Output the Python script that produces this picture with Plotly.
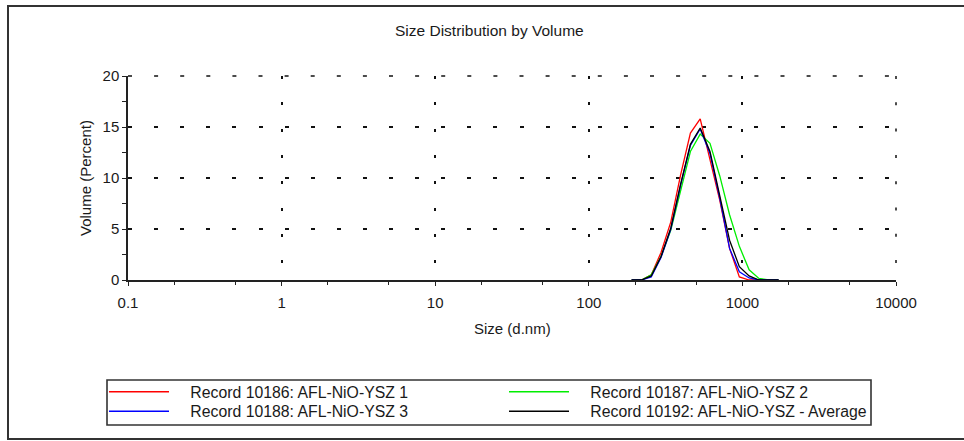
import plotly.graph_objects as go

# Particle size bins (d.nm) around the measured peak
sizes = [190.1, 220.2, 255.0, 295.3, 342.0, 396.1, 458.7, 531.2, 615.1,
         712.4, 825.0, 955.4, 1106, 1281, 1484, 1718]

# Volume distributions (%) per record
rec_10186 = [0, 0, 0.5, 2.7, 5.7, 10.3, 14.4, 15.8, 11.8, 7.8, 3.1, 0.3, 0, 0, 0, 0]
rec_10187 = [0, 0, 0.5, 2.3, 4.9, 8.8, 12.6, 14.3, 13.4, 10.2, 6.4, 3.3, 1.0, 0.15, 0, 0]
rec_10188 = [0, 0, 0.3, 2.2, 5.0, 9.3, 13.2, 14.8, 12.4, 8.0, 3.1, 0.8, 0.2, 0, 0, 0]
rec_10192 = [0, 0, 0.4, 2.3, 5.1, 9.4, 13.3, 14.9, 12.6, 8.3, 3.9, 1.3, 0.4, 0, 0, 0]

names = ["Record 10186: AFL-NiO-YSZ 1", "Record 10187: AFL-NiO-YSZ 2",
         "Record 10188: AFL-NiO-YSZ 3", "Record 10192: AFL-NiO-YSZ - Average"]
series = [rec_10186, rec_10187, rec_10188, rec_10192]
colors = ["#ff0000", "#00ee00", "#0000ff", "#000000"]
legend_rows = ["legend", "legend", "legend2", "legend2"]

x_ticks = [0.1, 1, 10, 100, 1000, 10000]
x_labels = ["0.1", "1", "10", "100", "1000", "10000"]
y_ticks = [0, 5, 10, 15, 20]

FONT = "Liberation Sans, Arial, sans-serif"
W, H = 964, 441
L, R, T, B = 128, 68, 76, 161
PW, PH = W - L - R, H - T - B
X_DASH = "3px,23.3px"
Y_DASH = "4px,22.1px"
GRID = dict(color="#111", width=1.5)
NAME_PAD = "\u00a0\u00a0\u00a0\u2009"  # gap between legend line sample and its text


def px(xp):
    return (xp - L) / PW


def py(yp):
    return (H - B - yp) / PH


fig = go.Figure()
for name, vals, col, lg in zip(names, series, colors, legend_rows):
    fig.add_trace(go.Scatter(x=sizes, y=vals, mode="lines", name=NAME_PAD + name,
                             legend=lg, line=dict(color=col, width=1.3)))

text_font = dict(family=FONT, size=15, color="#1a1a1a")
title_font = dict(family=FONT, size=15.5, color="#1a1a1a")
legend_font = dict(family=FONT, size=15.8, color="#1a1a1a")


def row_legend(yp):
    return dict(orientation="h", x=px(104), y=py(yp), xanchor="left", yanchor="middle",
                entrywidth=325, entrywidthmode="pixels", itemwidth=60,
                font=legend_font, bgcolor="rgba(0,0,0,0)", borderwidth=0)


fig.update_layout(
    width=W, height=H,
    margin=dict(l=L, r=R, t=T, b=B, autoexpand=False),
    paper_bgcolor="white", plot_bgcolor="white",
    showlegend=True,
    legend=row_legend(392),
    legend2=row_legend(411.5),
    xaxis=dict(type="log", range=[-1, 4], tickvals=x_ticks, ticktext=x_labels,
               showline=True, linecolor="#222", linewidth=1.5,
               ticks="outside", ticklen=4, tickwidth=1.3, tickcolor="#222",
               minor=dict(ticks="outside", ticklen=3, tickwidth=1, tickcolor="#222",
                          showgrid=False),
               showgrid=True, gridcolor=GRID["color"], gridwidth=GRID["width"], griddash=X_DASH,
               zeroline=False, tickfont=text_font, ticklabelstandoff=4),
    yaxis=dict(range=[0, 20], tickvals=y_ticks,
               showline=True, linecolor="#222", linewidth=1.5,
               ticks="outside", ticklen=4, tickwidth=1.3, tickcolor="#222",
               minor=dict(dtick=2.5, ticks="outside", ticklen=4, tickwidth=1.3,
                          tickcolor="#222", showgrid=False),
               showgrid=True, gridcolor=GRID["color"], gridwidth=GRID["width"], griddash=Y_DASH,
               zeroline=False, tickfont=text_font),
    xaxis2=dict(type="log", range=[-1, 4], overlaying="x", anchor="y", side="bottom",
                tickvals=x_ticks, showticklabels=False, showgrid=False, showline=False,
                ticks="inside", ticklen=3, tickwidth=1.3, tickcolor="#222",
                minor=dict(ticks="inside", ticklen=2, tickwidth=1, tickcolor="#222"),
                zeroline=False),
    yaxis2=dict(range=[0, 20], overlaying="y", anchor="x", side="left",
                dtick=2.5, showticklabels=False, showgrid=False, showline=False,
                ticks="inside", ticklen=3, tickwidth=1.3, tickcolor="#222",
                zeroline=False),
    annotations=[
        dict(text="Size Distribution by Volume", x=px(489), y=py(31), xref="paper", yref="paper",
             xanchor="center", yanchor="middle", showarrow=False, font=title_font),
        dict(text="Size (d.nm)", x=px(512), y=py(328), xref="paper", yref="paper",
             xanchor="center", yanchor="middle", showarrow=False, font=text_font),
        dict(text="Volume (Percent)", x=px(85), y=py(178), xref="paper", yref="paper",
             xanchor="center", yanchor="middle", textangle=-90, showarrow=False,
             font=text_font),
    ],
    shapes=[
        # outer frame
        dict(type="rect", xref="paper", yref="paper", x0=px(8), x1=px(990),
             y0=py(439), y1=py(6), line=dict(color="#333", width=2), layer="below"),
        # legend box
        dict(type="rect", xref="paper", yref="paper", x0=px(107), x1=px(871),
             y0=py(425), y1=py(380), line=dict(color="#333", width=1.6)),
        # dotted grid along the top and right edges of the plot area
        dict(type="line", xref="paper", yref="paper", x0=0, x1=1, y0=1, y1=1,
             line=dict(color=GRID["color"], width=GRID["width"], dash=Y_DASH)),
        dict(type="line", xref="paper", yref="paper", x0=1, x1=1, y0=1, y1=0,
             line=dict(color=GRID["color"], width=GRID["width"], dash=X_DASH)),
    ],
)

fig.write_html("out.html")
